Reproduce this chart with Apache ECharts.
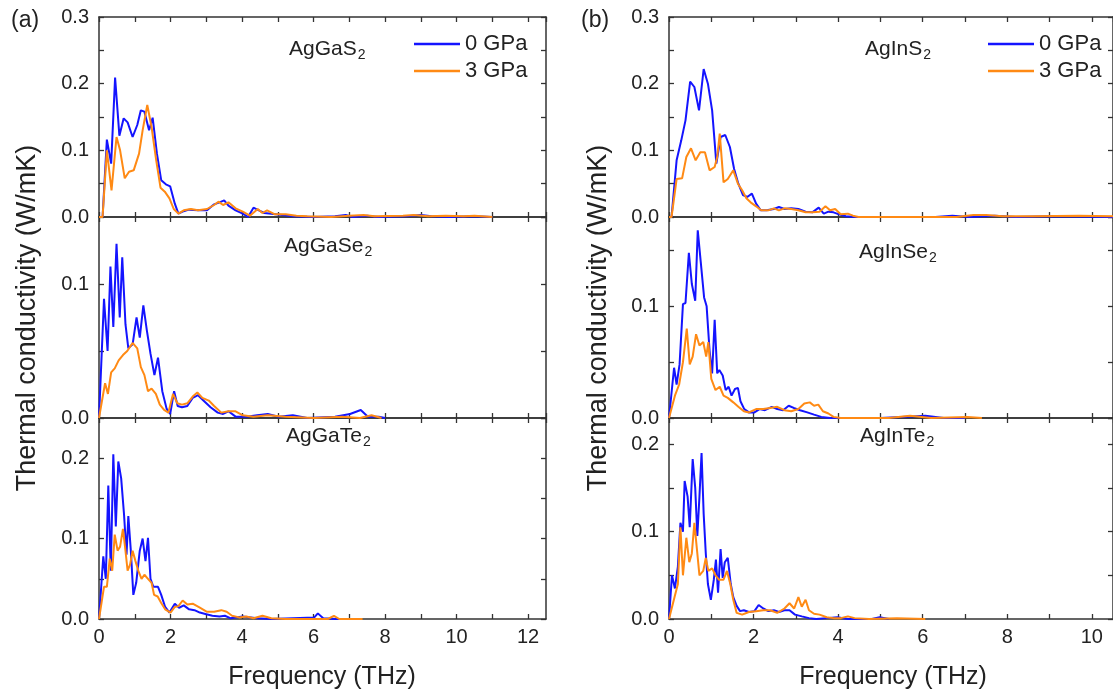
<!DOCTYPE html>
<html>
<head>
<meta charset="utf-8">
<script src="https://cdn.jsdelivr.net/npm/echarts@6/dist/echarts.min.js"></script>
<style>html,body{margin:0;padding:0;background:#fff}#c{width:1113px;height:692px}</style>
</head>
<body>
<div id="c"></div>
<script>
// ---------- DATA ([frequency THz, thermal conductivity W/mK]) ----------
const pressures = ['0 GPa', '3 GPa'];
const compoundsA = ['AgGaS', 'AgGaSe', 'AgGaTe'];
const compoundsB = ['AgInS', 'AgInSe', 'AgInTe'];
const xTicksA = [0, 2, 4, 6, 8, 10, 12];
const xTicksB = [0, 2, 4, 6, 8, 10];
const yMaxes = [0.3, 0.15, 0.25, 0.3, 0.18, 0.23];

const agGaS2_0 = [[0,0],[0.1,0],[0.22,0.116],[0.34,0.08],[0.45,0.209],[0.57,0.122],[0.69,0.148],[0.8,0.142],[0.94,0.12],[1.07,0.138],[1.17,0.16],[1.27,0.158],[1.4,0.13],[1.5,0.149],[1.62,0.095],[1.74,0.055],[1.87,0.049],[1.99,0.046],[2.12,0.02],[2.22,0.005],[2.34,0.008],[2.52,0.011],[2.77,0.01],[3.02,0.01],[3.22,0.019],[3.37,0.022],[3.5,0.025],[3.62,0.017],[3.82,0.01],[4.02,0.005],[4.17,0],[4.32,0.014],[4.47,0.01],[4.62,0.006],[4.82,0.005],[5.12,0.003],[5.42,0.001],[6.0,0],[6.6,0.001],[6.9,0.003],[7.1,0],[7.5,0.002],[7.8,0],[8.6,0.001],[9.0,0.003],[9.3,0.001],[9.8,0],[10.5,0.001],[11,0]];
const agGaS2_3 = [[0,0],[0.1,0],[0.22,0.1],[0.35,0.04],[0.49,0.12],[0.59,0.1],[0.72,0.058],[0.84,0.068],[0.97,0.07],[1.12,0.095],[1.22,0.13],[1.35,0.168],[1.47,0.135],[1.6,0.085],[1.72,0.044],[1.84,0.038],[1.97,0.028],[2.09,0.012],[2.22,0.005],[2.37,0.01],[2.57,0.012],[2.77,0.01],[3.02,0.012],[3.22,0.018],[3.34,0.023],[3.47,0.018],[3.62,0.022],[3.82,0.013],[4.02,0.008],[4.22,0.002],[4.44,0.012],[4.57,0.006],[4.7,0.01],[4.92,0.004],[5.22,0.004],[5.52,0.002],[5.82,0.001],[6.5,0],[7.0,0.002],[7.4,0.003],[7.7,0.001],[8.5,0.002],[8.8,0.003],[9.2,0.001],[9.7,0.002],[10.2,0.001],[10.5,0.002],[11,0]];
const agGaSe2_0 = [[0,0],[0.05,0],[0.14,0.089],[0.24,0.05],[0.32,0.113],[0.4,0.068],[0.49,0.13],[0.58,0.075],[0.65,0.12],[0.74,0.07],[0.82,0.052],[0.94,0.055],[1.05,0.075],[1.14,0.06],[1.24,0.084],[1.34,0.065],[1.44,0.048],[1.55,0.032],[1.65,0.045],[1.77,0.02],[1.89,0.007],[1.99,0.003],[2.1,0.02],[2.2,0.009],[2.32,0.008],[2.47,0.009],[2.62,0.015],[2.77,0.017],[2.92,0.013],[3.12,0.008],[3.32,0.004],[3.47,0.003],[3.62,0.005],[3.82,0.001],[4.12,0.001],[4.42,0.002],[4.72,0.003],[5.02,0.001],[5.42,0.002],[5.82,0],[6.6,0.001],[7.02,0.003],[7.32,0.006],[7.52,0.001],[7.82,0.001],[8.0,0]];
const agGaSe2_3 = [[0,0],[0.05,0],[0.17,0.026],[0.25,0.018],[0.34,0.034],[0.44,0.037],[0.55,0.043],[0.67,0.047],[0.79,0.05],[0.94,0.056],[1.07,0.052],[1.17,0.038],[1.27,0.032],[1.37,0.02],[1.47,0.022],[1.59,0.018],[1.7,0.01],[1.82,0.006],[1.94,0.004],[2.07,0.018],[2.19,0.011],[2.32,0.01],[2.47,0.011],[2.62,0.016],[2.75,0.019],[2.89,0.015],[3.07,0.013],[3.22,0.009],[3.42,0.004],[3.62,0.005],[3.82,0.005],[4.02,0.002],[4.32,0.001],[4.72,0.002],[5.22,0.001],[6.0,0],[6.8,0.001],[7.3,0],[7.62,0.002],[7.9,0]];
const agGaTe2_0 = [[0,0],[0.05,0],[0.12,0.078],[0.19,0.05],[0.26,0.166],[0.33,0.06],[0.4,0.205],[0.47,0.115],[0.54,0.196],[0.62,0.175],[0.7,0.13],[0.77,0.08],[0.82,0.128],[0.89,0.085],[0.96,0.03],[1.04,0.045],[1.14,0.085],[1.22,0.1],[1.3,0.072],[1.37,0.101],[1.44,0.05],[1.52,0.04],[1.65,0.04],[1.74,0.03],[1.85,0.015],[1.97,0.008],[2.12,0.019],[2.24,0.014],[2.37,0.017],[2.52,0.012],[2.67,0.011],[2.82,0.008],[3.0,0.006],[3.17,0.004],[3.37,0.003],[3.52,0.004],[3.67,0.001],[4.02,0.003],[4.42,0.001],[4.82,0],[6.02,0.002],[6.12,0.007],[6.27,0.001],[6.62,0],[7.32,0]];
const agGaTe2_3 = [[0,0],[0.05,0],[0.14,0.04],[0.22,0.04],[0.3,0.075],[0.37,0.06],[0.44,0.105],[0.52,0.085],[0.59,0.09],[0.67,0.112],[0.74,0.085],[0.8,0.06],[0.87,0.068],[0.94,0.085],[1.02,0.072],[1.1,0.06],[1.19,0.05],[1.27,0.055],[1.37,0.05],[1.47,0.045],[1.54,0.03],[1.64,0.028],[1.74,0.02],[1.85,0.012],[2.0,0.008],[2.12,0.015],[2.22,0.016],[2.34,0.023],[2.47,0.018],[2.62,0.019],[2.82,0.014],[3.02,0.009],[3.22,0.009],[3.42,0.011],[3.57,0.009],[3.72,0.004],[3.92,0.002],[4.12,0.003],[4.32,0.001],[4.57,0.004],[4.82,0.001],[5.22,0],[6.4,0],[6.57,0.004],[6.72,0],[7.37,0]];

const agInS2_0 = [[0,0],[0.06,0],[0.18,0.085],[0.29,0.115],[0.39,0.145],[0.5,0.203],[0.6,0.195],[0.71,0.16],[0.82,0.222],[0.92,0.2],[1.02,0.16],[1.12,0.08],[1.22,0.12],[1.33,0.123],[1.44,0.105],[1.54,0.072],[1.64,0.05],[1.75,0.033],[1.85,0.03],[1.96,0.035],[2.06,0.02],[2.17,0.01],[2.31,0.01],[2.48,0.012],[2.6,0.015],[2.73,0.012],[2.89,0.013],[3.06,0.012],[3.23,0.008],[3.39,0.007],[3.54,0.014],[3.66,0.005],[3.77,0.008],[3.89,0.007],[4.02,0.004],[4.18,0.001],[4.39,0],[6.3,0],[6.7,0.002],[7.1,0],[7.7,0.002],[8.2,0],[9.0,0.001],[10.6,0]];
const agInS2_3 = [[0,0],[0.06,0],[0.18,0.057],[0.31,0.058],[0.41,0.09],[0.52,0.103],[0.63,0.085],[0.74,0.097],[0.85,0.097],[0.96,0.07],[1.08,0.075],[1.14,0.09],[1.2,0.125],[1.29,0.052],[1.39,0.057],[1.52,0.07],[1.63,0.05],[1.73,0.04],[1.83,0.028],[1.93,0.022],[2.06,0.016],[2.18,0.01],[2.35,0.01],[2.48,0.013],[2.6,0.01],[2.73,0.013],[2.89,0.012],[3.06,0.01],[3.23,0.007],[3.39,0.007],[3.56,0.008],[3.7,0.016],[3.81,0.01],[3.93,0.012],[4.06,0.004],[4.23,0.005],[4.35,0.002],[4.48,0],[6.8,0],[7.2,0.003],[7.5,0.003],[7.9,0.001],[8.6,0.001],[9.7,0.002],[10.6,0.001]];
const agInSe2_0 = [[0,0],[0.04,0],[0.12,0.045],[0.18,0.03],[0.25,0.048],[0.33,0.102],[0.39,0.103],[0.47,0.148],[0.54,0.12],[0.62,0.105],[0.68,0.168],[0.75,0.14],[0.83,0.108],[0.89,0.1],[0.96,0.06],[1.02,0.04],[1.08,0.088],[1.14,0.04],[1.19,0.043],[1.27,0.038],[1.34,0.025],[1.41,0.028],[1.48,0.02],[1.56,0.026],[1.63,0.027],[1.69,0.015],[1.78,0.008],[1.89,0.005],[2.02,0.005],[2.14,0.008],[2.27,0.007],[2.43,0.01],[2.56,0.008],[2.7,0.007],[2.83,0.011],[2.95,0.009],[3.1,0.007],[3.27,0.005],[3.43,0.003],[3.6,0.001],[3.81,0],[5.0,0],[5.5,0.001],[6.06,0.002],[6.5,0],[7.0,0]];
const agInSe2_3 = [[0,0],[0.04,0],[0.14,0.02],[0.24,0.03],[0.33,0.05],[0.42,0.08],[0.49,0.048],[0.56,0.055],[0.64,0.075],[0.72,0.065],[0.81,0.068],[0.88,0.055],[0.93,0.068],[1.0,0.035],[1.1,0.025],[1.2,0.028],[1.29,0.02],[1.39,0.018],[1.52,0.014],[1.64,0.01],[1.77,0.006],[1.89,0.005],[2.06,0.008],[2.23,0.008],[2.39,0.009],[2.56,0.01],[2.73,0.007],[2.89,0.006],[3.06,0.008],[3.2,0.013],[3.33,0.014],[3.43,0.011],[3.53,0.012],[3.64,0.006],[3.77,0.004],[3.89,0.001],[4.06,0],[5.2,0],[5.7,0.002],[6.2,0],[7.06,0.001],[7.4,0]];
const agInTe2_0 = [[0,0],[0.04,0],[0.07,0.05],[0.14,0.035],[0.21,0.06],[0.27,0.11],[0.33,0.1],[0.37,0.158],[0.44,0.14],[0.49,0.105],[0.56,0.183],[0.62,0.15],[0.67,0.095],[0.72,0.14],[0.77,0.19],[0.82,0.12],[0.87,0.075],[0.92,0.04],[0.99,0.022],[1.06,0.045],[1.11,0.068],[1.16,0.03],[1.22,0.08],[1.27,0.047],[1.32,0.065],[1.39,0.07],[1.46,0.04],[1.52,0.025],[1.6,0.015],[1.68,0.009],[1.77,0.01],[1.89,0.008],[2.02,0.009],[2.12,0.016],[2.23,0.012],[2.35,0.009],[2.48,0.01],[2.6,0.008],[2.73,0.01],[2.85,0.01],[2.98,0.005],[3.14,0.003],[3.31,0.001],[3.48,0],[3.73,0.001],[3.98,0.002],[4.23,0],[4.8,0],[4.98,0.002],[5.2,0]];
const agInTe2_3 = [[0,0],[0.04,0],[0.13,0.025],[0.21,0.04],[0.27,0.105],[0.33,0.05],[0.41,0.093],[0.48,0.065],[0.54,0.075],[0.6,0.11],[0.66,0.08],[0.72,0.05],[0.81,0.055],[0.87,0.07],[0.93,0.055],[1.02,0.058],[1.1,0.05],[1.18,0.045],[1.29,0.045],[1.37,0.055],[1.45,0.04],[1.52,0.022],[1.6,0.007],[1.73,0.005],[1.89,0.008],[2.06,0.009],[2.23,0.01],[2.39,0.01],[2.56,0.007],[2.73,0.012],[2.85,0.018],[2.96,0.012],[3.06,0.025],[3.14,0.014],[3.23,0.022],[3.31,0.01],[3.43,0.006],[3.56,0.005],[3.73,0.002],[3.89,0.001],[4.06,0.001],[4.23,0.003],[4.39,0.001],[4.73,0],[5.39,0.001],[6.06,0]];

const seriesData = [
  [agGaS2_0, agGaS2_3], [agGaSe2_0, agGaSe2_3], [agGaTe2_0, agGaTe2_3],
  [agInS2_0, agInS2_3], [agInSe2_0, agInSe2_3], [agInTe2_0, agInTe2_3]
];

// ---------- CHART ----------
const FONT = '"Liberation Sans", Arial, Helvetica, sans-serif';
const TXT = '#222';
const AX = '#333';
const colors = ['#1414ff', '#ff8a14'];
const panelTops = [17, 217, 418];
const panelHeights = [200, 201, 201];
const colLeft = [99, 669];
const colWidth = [447, 448];
const colXMax = [12.5, 10.5];

const grids = [], xAxes = [], yAxes = [], series = [];
const isMultiple = (v, step) => Math.abs(v / step - Math.round(v / step)) < 1e-6;

for (let g = 0; g < 6; g++) {
  const col = g < 3 ? 0 : 1;
  const row = g % 3;
  grids.push({ left: colLeft[col], top: panelTops[row], width: colWidth[col], height: panelHeights[row] });
  const xmax = colXMax[col];
  const ymax = yMaxes[g];
  const showXLabels = row === 2;
  const tickStyle = { show: true, inside: true, length: 5, lineStyle: { color: AX, width: 1.3 } };
  const lineStyle = { show: true, onZero: false, lineStyle: { color: AX, width: 1.5 } };
  xAxes.push({
    type: 'value', gridIndex: g, position: 'bottom', min: 0, max: xmax, interval: 1,
    axisLine: lineStyle, axisTick: tickStyle, splitLine: { show: false },
    axisLabel: {
      show: showXLabels, margin: 8, color: TXT, fontSize: 20, fontFamily: FONT,
      showMaxLabel: false,
      formatter: v => (isMultiple(v, 2) ? String(v) : '')
    }
  });
  xAxes.push({
    type: 'value', gridIndex: g, position: 'top', min: 0, max: xmax, interval: 1,
    axisLine: lineStyle, axisTick: tickStyle, splitLine: { show: false }, axisLabel: { show: false }
  });
  yAxes.push({
    type: 'value', gridIndex: g, position: 'left', min: 0, max: ymax, interval: 0.05,
    axisLine: lineStyle, axisTick: tickStyle, splitLine: { show: false },
    axisLabel: {
      margin: 10, color: TXT, fontSize: 20, fontFamily: FONT,
      showMaxLabel: isMultiple(ymax, 0.1),
      formatter: v => (isMultiple(v, 0.1) ? v.toFixed(1) : '')
    }
  });
  yAxes.push({
    type: 'value', gridIndex: g, position: 'right', min: 0, max: ymax, interval: 0.05,
    axisLine: lineStyle, axisTick: tickStyle, splitLine: { show: false }, axisLabel: { show: false }
  });
  for (let p = 0; p < 2; p++) {
    series.push({
      name: pressures[p], type: 'line', xAxisIndex: 2 * g, yAxisIndex: 2 * g,
      data: seriesData[g][p], symbol: 'none', showSymbol: false, smooth: false,
      lineStyle: { color: colors[p], width: 2 }, itemStyle: { color: colors[p] },
      z: 2 + p, silent: true, animation: false
    });
  }
}

const textBase = { fill: TXT, fontFamily: FONT };
const subRich = {
  a: { fontSize: 21, fontFamily: FONT, color: TXT },
  s: { fontSize: 14, fontFamily: FONT, color: TXT, padding: [12, 0, 0, 1] }
};
const graphics = [];
const labelPos = [[289, 50], [284, 247], [286, 437], [865, 50], [859, 253], [860, 437]];
const allNames = compoundsA.concat(compoundsB);
allNames.forEach((nm, i) => {
  graphics.push({
    type: 'text', left: labelPos[i][0], top: labelPos[i][1] - 11, z: 10,
    style: { text: '{a|' + nm + '}{s|2}', rich: subRich, fill: TXT }
  });
});
graphics.push({ type: 'text', x: 11, y: 21, style: Object.assign({ text: '(a)', fontSize: 23, verticalAlign: 'middle' }, textBase) });
graphics.push({ type: 'text', x: 581, y: 21, style: Object.assign({ text: '(b)', fontSize: 23, verticalAlign: 'middle' }, textBase) });
[322, 893].forEach(cx => {
  graphics.push({
    type: 'text', x: cx, y: 677,
    style: Object.assign({ text: 'Frequency (THz)', fontSize: 25, align: 'center', verticalAlign: 'middle' }, textBase)
  });
});
[28, 599].forEach(cx => {
  graphics.push({
    type: 'text', x: cx, y: 318, rotation: Math.PI / 2,
    style: Object.assign({ text: 'Thermal conductivity (W/mK)', fontSize: 27, align: 'center', verticalAlign: 'middle' }, textBase)
  });
});

const legendBase = {
  data: pressures, orient: 'vertical', icon: 'rect', itemWidth: 46, itemHeight: 2.5, itemGap: 5,
  padding: 0,
  textStyle: { fontSize: 22, color: TXT, fontFamily: FONT },
  selectedMode: false
};

const chart = echarts.init(document.getElementById('c'), null, { renderer: 'canvas' });
chart.setOption({
  backgroundColor: '#fff',
  animation: false,
  grid: grids,
  xAxis: xAxes,
  yAxis: yAxes,
  series: series,
  legend: [
    Object.assign({ left: 414, top: 33 }, legendBase),
    Object.assign({ left: 988, top: 33 }, legendBase)
  ],
  graphic: graphics
});
</script>
</body>
</html>
